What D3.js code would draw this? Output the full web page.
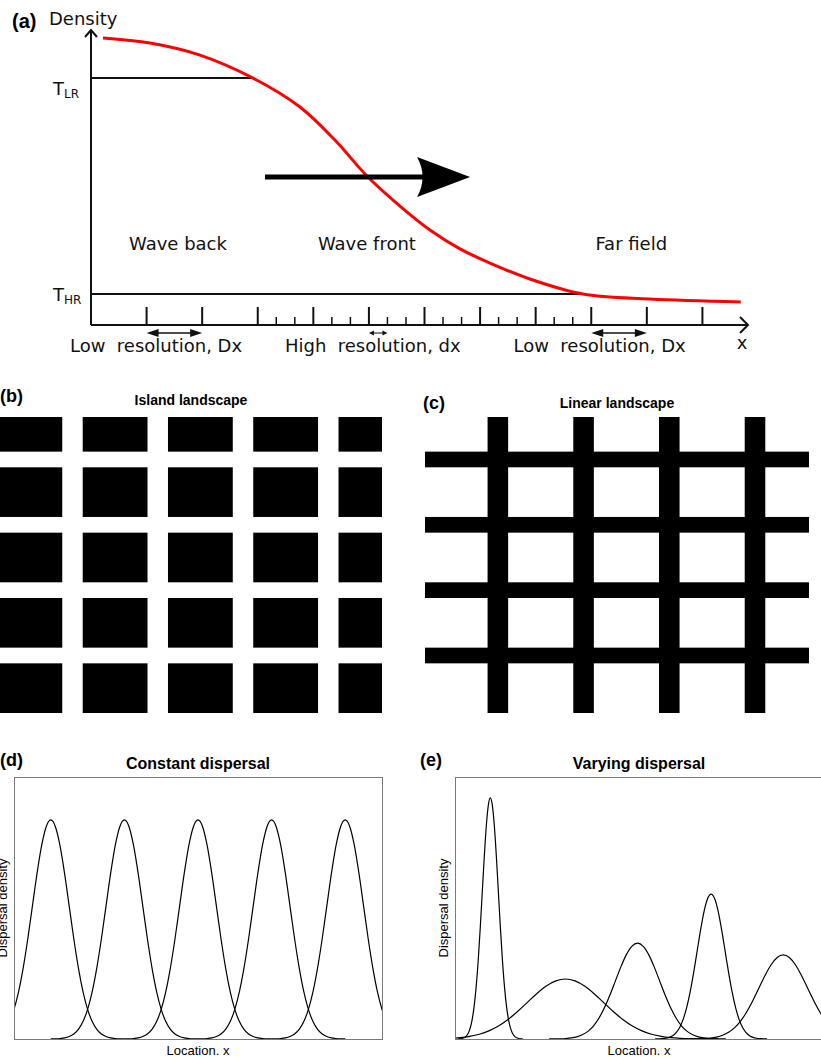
<!DOCTYPE html>
<html>
<head>
<meta charset="utf-8">
<script src="https://d3js.org/d3.v7.min.js"></script>
<title>Travelling wave and landscapes</title>
<style>
  body { margin: 0; background: #fff; }
  svg { display: block; }
  .wave text { font-family: "DejaVu Sans", sans-serif; fill: #111; white-space: pre; }
  .panel text { font-family: "Liberation Sans", Arial, sans-serif; fill: #000; }
  .tag { font-family: "Liberation Sans", Arial, sans-serif; font-weight: bold; fill: #000; }
</style>
</head>
<body>
<svg id="fig" width="821" height="1057"></svg>
<script>
// ---------- (a) travelling wave, x in units of Dx, density 0..1 ----------
const waveX       = [0.216, 1.061, 1.960, 2.914, 3.759, 4.388, 4.964, 5.558, 6.097, 6.637, 7.176, 7.896, 8.849, 10.05, 11.69];
const waveDensity = [0.973, 0.956, 0.915, 0.837, 0.739, 0.627, 0.505, 0.403, 0.322, 0.258, 0.210, 0.156, 0.105, 0.088, 0.078];

const thresholdNames  = ["LR", "HR"];
const thresholdLevels = [0.837, 0.105];
const thresholdEnds   = [2.914, 8.849];

const majorTicks = [1, 2, 3, 4, 5, 6, 7, 8, 9, 10, 11];
const minorTicks = [3.333, 3.667, 4.333, 4.667, 5.333, 5.667, 6.333, 6.667, 7.333, 7.667, 8.333, 8.667];

const resolutionLabels = ["Low  resolution, Dx", "High  resolution, dx", "Low  resolution, Dx"];
const resolutionAt     = [1.17, 5.07, 9.15];
const spanStart = [1, 5, 9];
const spanEnd   = [2, 5.333, 10];

const regionLabels = ["Wave back", "Wave front", "Far field"];
const regionAt     = [1.565, 4.964, 9.72];
const regionLevel  = 0.254;

const frontArrow = [3.13, 6.82];   // from, to (Dx units)
const frontLevel = 0.502;

// ---------- (b)/(c) landscapes, in cell units ----------
const cellIndex     = [0, 1, 2, 3, 4];
const corridorIndex = [1, 2, 3, 4];
const habitatFrom = 0.12, habitatTo = 0.88;   // patch extent inside a cell
const windowX = [0.15, 4.63];
const windowY = [0.35, 4.88];

// ---------- (d)/(e) dispersal kernels ----------
const kernelOffsets = [0, 0.25, 0.5, 0.75, 1, 1.25, 1.5, 1.75, 2, 2.25, 2.5, 2.75, 3, 3.25, 3.5, 3.75, 4];
const kernelShape   = [1, 0.9692, 0.8825, 0.7548, 0.6065, 0.4578, 0.3247, 0.2163, 0.1353, 0.0796, 0.0439, 0.0228, 0.0111, 0.0051, 0.0022, 0.0009, 0.0003];

const constCentres = [0.5, 1.5, 2.5, 3.5, 4.5];
const constSpread  = [0.25, 0.25, 0.25, 0.25, 0.25];
const constHeight  = [0.836, 0.836, 0.836, 0.836, 0.836];

const varyCentres = [0.48, 1.5, 2.48, 3.48, 4.46];
const varySpread  = [0.11, 0.52, 0.30, 0.19, 0.33];
const varyHeight  = [0.92, 0.229, 0.366, 0.553, 0.321];

const svg = d3.select("svg#fig");

// =================== panel (a) ===================
const ax = d3.scaleLinear().domain([0, 11.82]).range([91, 748]);
const ay = d3.scaleLinear().domain([0, 1]).range([325, 30]);
const ga = svg.append("g").attr("class", "wave");

thresholdLevels.forEach((lv, i) => {
  ga.append("line")
    .attr("x1", ax(0)).attr("x2", ax(thresholdEnds[i]))
    .attr("y1", ay(lv)).attr("y2", ay(lv))
    .attr("stroke", "#111").attr("stroke-width", 2);
});

// axes with open arrow heads
ga.append("path")
  .attr("d", `M${ax(0)},${ay(0)} V${ay(1)} M${ax(0)},${ay(0)} H${ax(11.82)}`)
  .attr("stroke", "#111").attr("stroke-width", 2).attr("fill", "none");
ga.append("path")
  .attr("d", `M${ax(0) - 6},${ay(1) + 7} L${ax(0)},${ay(1)} L${ax(0) + 6},${ay(1) + 7}`)
  .attr("stroke", "#111").attr("stroke-width", 2).attr("fill", "none");
ga.append("path")
  .attr("d", `M${ax(11.82) - 8},${ay(0) - 8} L${ax(11.82)},${ay(0)} L${ax(11.82) - 8},${ay(0) + 8}`)
  .attr("stroke", "#111").attr("stroke-width", 2).attr("fill", "none");

ga.selectAll("line.major").data(majorTicks).join("line")
  .attr("class", "major")
  .attr("x1", d => ax(d)).attr("x2", d => ax(d))
  .attr("y1", ay(0)).attr("y2", ay(0) - 18)
  .attr("stroke", "#111").attr("stroke-width", 2);
ga.selectAll("line.minor").data(minorTicks).join("line")
  .attr("class", "minor")
  .attr("x1", d => ax(d)).attr("x2", d => ax(d))
  .attr("y1", ay(0)).attr("y2", ay(0) - 8)
  .attr("stroke", "#111").attr("stroke-width", 1.5);

// red wave profile
const waveLine = d3.line()
  .x((d, i) => ax(waveX[i]))
  .y(d => ay(d))
  .curve(d3.curveCatmullRom.alpha(0.5));
ga.append("path")
  .attr("d", waveLine(waveDensity))
  .attr("fill", "none").attr("stroke", "#ff0000").attr("stroke-width", 3);

// big arrow showing the direction of the front
const tipX = ax(frontArrow[1]), midY = ay(frontLevel);
ga.append("line")
  .attr("x1", ax(frontArrow[0])).attr("x2", tipX - 46)
  .attr("y1", midY).attr("y2", midY)
  .attr("stroke", "#000").attr("stroke-width", 5);
ga.append("path")
  .attr("d", `M${tipX},${midY} L${tipX - 53},${midY - 20} Q${tipX - 42},${midY} ${tipX - 53},${midY + 20} Z`)
  .attr("fill", "#000");

// double arrows for Dx / dx
spanStart.forEach((s, i) => {
  const x1 = ax(s), x2 = ax(spanEnd[i]), y = ay(0) + 8;
  const small = (x2 - x1) < 30;
  const hl = small ? 5 : 12, hw = small ? 2.5 : 4;
  ga.append("line").attr("x1", x1 + hl / 2).attr("x2", x2 - hl / 2)
    .attr("y1", y).attr("y2", y).attr("stroke", "#111").attr("stroke-width", small ? 1 : 1.5);
  ga.append("path")
    .attr("d", `M${x1},${y} L${x1 + hl},${y - hw} L${x1 + hl},${y + hw} Z M${x2},${y} L${x2 - hl},${y - hw} L${x2 - hl},${y + hw} Z`)
    .attr("fill", "#111");
});

resolutionLabels.forEach((t, i) => {
  ga.append("text").attr("x", ax(resolutionAt[i])).attr("y", 352)
    .attr("text-anchor", "middle").attr("font-size", 18).text(t);
});
ga.append("text").attr("x", ax(11.82) - 6).attr("y", 349)
  .attr("text-anchor", "middle").attr("font-size", 18).text("x");

regionLabels.forEach((t, i) => {
  ga.append("text").attr("x", ax(regionAt[i])).attr("y", ay(regionLevel))
    .attr("text-anchor", "middle").attr("font-size", 18).text(t);
});

ga.append("text").attr("x", 49).attr("y", 25).attr("font-size", 18).text("Density");
svg.append("text").attr("class", "tag").attr("x", 12).attr("y", 28).attr("font-size", 20).text("(a)");

const tBase = [95, 301];
thresholdNames.forEach((n, i) => {
  const t = ga.append("text").attr("x", 53).attr("y", tBase[i]).attr("font-size", 18).text("T");
  t.append("tspan").attr("font-size", 12).attr("dy", 3).text(n);
});

// =================== panels (b) and (c) ===================
function landscapePanel(x0, x1, top, bottom, tag, tagX, tagY, title, titleY, linear) {
  const sx = d3.scaleLinear().domain(windowX).range([x0, x1]);
  const sy = d3.scaleLinear().domain(windowY).range([top, bottom]);
  const g = svg.append("g").attr("class", "panel");
  const clipId = "clip-" + tag.replace(/[()]/g, "");
  g.append("clipPath").attr("id", clipId).append("rect")
    .attr("x", sx(windowX[0])).attr("y", sy(windowY[0]))
    .attr("width", sx(windowX[1]) - sx(windowX[0]))
    .attr("height", sy(windowY[1]) - sy(windowY[0]));
  const area = g.append("g").attr("clip-path", `url(#${clipId})`);

  if (!linear) {
    const cells = cellIndex.flatMap(i => cellIndex.map(j => [i, j]));
    area.selectAll("rect").data(cells).join("rect")
      .attr("x", d => sx(d[0] + habitatFrom))
      .attr("y", d => sy(d[1] + habitatFrom))
      .attr("width", d => sx(d[0] + habitatTo) - sx(d[0] + habitatFrom))
      .attr("height", d => sy(d[1] + habitatTo) - sy(d[1] + habitatFrom))
      .attr("fill", "#000");
  } else {
    const half = habitatFrom;
    area.selectAll("rect.h").data(corridorIndex).join("rect").attr("class", "h")
      .attr("x", sx(windowX[0])).attr("width", sx(windowX[1]) - sx(windowX[0]))
      .attr("y", d => sy(d - half)).attr("height", d => sy(d + half) - sy(d - half))
      .attr("fill", "#000");
    area.selectAll("rect.v").data(corridorIndex).join("rect").attr("class", "v")
      .attr("y", sy(windowY[0])).attr("height", sy(windowY[1]) - sy(windowY[0]))
      .attr("x", d => sx(d - half)).attr("width", d => sx(d + half) - sx(d - half))
      .attr("fill", "#000");
  }
  svg.append("text").attr("class", "tag").attr("x", tagX).attr("y", tagY).attr("font-size", 18).text(tag);
  g.append("text").attr("x", (x0 + x1) / 2).attr("y", titleY)
    .attr("text-anchor", "middle").attr("font-size", 14).attr("font-weight", "bold").text(title);
}
landscapePanel(0, 382, 417, 713, "(b)", 0, 402, "Island landscape", 405, false);
landscapePanel(425, 809, 417, 713, "(c)", 423, 409, "Linear landscape", 408, true);

// =================== panels (d) and (e) ===================
function kernelPoints(centre, spread, height) {
  const pts = [];
  for (let k = kernelOffsets.length - 1; k > 0; k--) pts.push([centre - kernelOffsets[k] * spread, height * kernelShape[k]]);
  kernelOffsets.forEach((o, k) => pts.push([centre + o * spread, height * kernelShape[k]]));
  return pts;
}

function dispersalPanel(x0, tag, title, centres, spreads, heights) {
  const sx = d3.scaleLinear().domain([0, 5]).range([x0, x0 + 368]);
  const sy = d3.scaleLinear().domain([0, 1]).range([1039, 777]);
  const g = svg.append("g").attr("class", "panel");
  const clipId = "clip-" + tag.replace(/[()]/g, "");
  g.append("clipPath").attr("id", clipId).append("rect")
    .attr("x", sx(0)).attr("y", sy(1)).attr("width", sx(5) - sx(0)).attr("height", sy(0) - sy(1));

  const line = d3.line().x(d => sx(d[0])).y(d => sy(d[1])).curve(d3.curveMonotoneX);
  g.append("g").attr("clip-path", `url(#${clipId})`)
    .selectAll("path").data(centres).join("path")
    .attr("d", (c, i) => line(kernelPoints(c, spreads[i], heights[i])))
    .attr("fill", "none").attr("stroke", "#000").attr("stroke-width", 1.2);

  g.append("rect")
    .attr("x", sx(0) + 0.5).attr("y", sy(1) + 0.5)
    .attr("width", sx(5) - sx(0)).attr("height", sy(0) - sy(1))
    .attr("fill", "none").attr("stroke", "#7a7a7a").attr("stroke-width", 1);

  g.append("text").attr("x", sx(2.5)).attr("y", 769)
    .attr("text-anchor", "middle").attr("font-size", 16).attr("font-weight", "bold").text(title);
  g.append("text").attr("x", sx(2.5)).attr("y", 1055)
    .attr("text-anchor", "middle").attr("font-size", 13).text("Location. x");
  g.append("text")
    .attr("transform", `translate(${sx(0) - 7},${sy(0.5)}) rotate(-90)`)
    .attr("text-anchor", "middle").attr("font-size", 13).text("Dispersal density");
  svg.append("text").attr("class", "tag").attr("x", x0 - 14 + (tag === "(e)" ? -21 : 0)).attr("y", 766)
    .attr("font-size", 18).text(tag);
}
dispersalPanel(14, "(d)", "Constant dispersal", constCentres, constSpread, constHeight);
dispersalPanel(455, "(e)", "Varying dispersal", varyCentres, varySpread, varyHeight);
</script>
</body>
</html>
